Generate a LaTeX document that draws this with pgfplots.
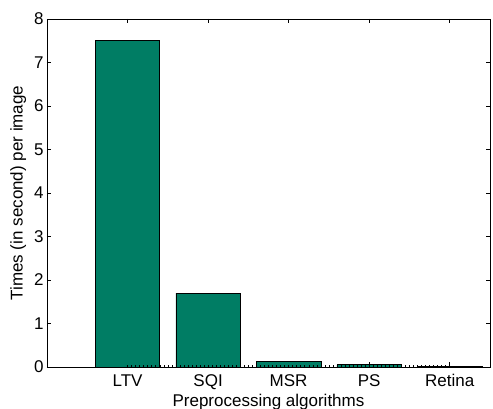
\documentclass[border=0pt]{standalone}
\usepackage{pgfplots}
\pgfplotsset{compat=1.18}
\usepackage{fontspec}
\setmainfont{Liberation Sans}
\definecolor{barc}{RGB}{0,125,100}
\begin{document}
\begin{tikzpicture}
\begin{axis}[
  scale only axis, width=443pt, height=348pt,
  at={(0,0)}, anchor=south west,
  xmin=0, xmax=5.5, ymin=0, ymax=8,
  xtick={1,2,3,4,5},
  xticklabels={LTV,SQI,MSR,PS,Retina},
  ytick={0,1,...,8},
  tick align=inside,
  major tick length=4.5pt,
  xtick pos=both, ytick pos=both,
  tick label style={font=\fontsize{17}{19}\selectfont},
  label style={font=\fontsize{17}{19}\selectfont},
  xticklabel style={yshift=-4pt},
  /pgf/number format/assume math mode=true,
  xlabel={Preprocessing algorithms},
  ylabel={Times (in second) per image},
  xlabel style={yshift=2pt},
  ylabel style={yshift=1pt},
  axis line style={line width=0.8pt},
  every tick/.style={black, line width=0.6pt},
]
\addplot[ybar, bar width=0.8, fill=barc, draw=black, line width=0.7pt] coordinates {
  (1,7.5) (2,1.7) (3,0.13) (4,0.05) (5,0.02)
};
\end{axis}
\begin{axis}[
  scale only axis, width=443pt, height=348pt,
  at={(0,0)}, anchor=south west,
  xmin=0, xmax=5.5, ymin=0, ymax=8,
  xtick={1,2,3,4,5}, xticklabels={},
  ytick=\empty,
  minor x tick num=19,
  tick align=inside,
  major tick length=2pt, minor tick length=2pt,
  xtick pos=bottom,
  axis line style={draw=none},
  every tick/.style={black, line width=0.5pt},
]
\end{axis}
\pgfresetboundingbox
\path[use as bounding box] (-47pt,-42pt) rectangle (446pt,367pt);
\end{tikzpicture}
\end{document}
